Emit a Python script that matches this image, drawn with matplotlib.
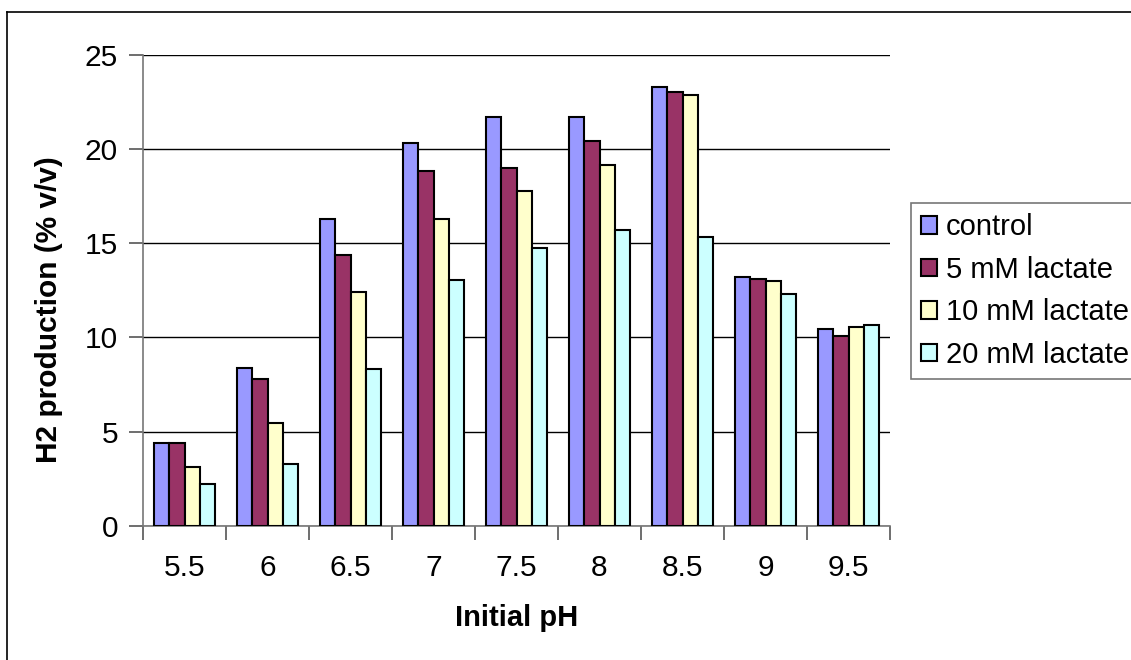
import numpy as np
import matplotlib.pyplot as plt
from matplotlib.lines import Line2D

plt.rcParams['font.family'] = ['Liberation Sans', 'DejaVu Sans']

# initial pH of each culture
ph_labels = ['5.5', '6', '6.5', '7', '7.5', '8', '8.5', '9', '9.5']

# H2 production (% v/v)
control = [4.4, 8.4, 16.3, 20.3, 21.7, 21.7, 23.3, 13.2, 10.45]
lactate_5 = [4.4, 7.8, 14.35, 18.8, 19.0, 20.4, 23.0, 13.1, 10.05]
lactate_10 = [3.15, 5.45, 12.4, 16.3, 17.75, 19.15, 22.85, 13.0, 10.55]
lactate_20 = [2.25, 3.3, 8.3, 13.05, 14.75, 15.7, 15.3, 12.3, 10.65]

series = [control, lactate_5, lactate_10, lactate_20]
names = ['control', '5 mM lactate', '10 mM lactate', '20 mM lactate']
colors = ['#9999FF', '#993366', '#FFFFCC', '#CCFFFF']

fig = plt.figure(figsize=(11.31, 6.6), dpi=100)
ax = fig.add_axes([143 / 1131, 1 - 526 / 660, (890 - 143) / 1131, (526 - 54.5) / 660])

x = np.arange(len(ph_labels))
width = 0.186
offsets = (np.arange(4) - 1.5) * width
handles = []
for vals, name, col, off in zip(series, names, colors, offsets):
    b = ax.bar(x + off, vals, width, color=col, edgecolor='black',
               linewidth=1.5, label=name, zorder=3)
    handles.append(b)

ax.set_xlim(-0.5, len(ph_labels) - 0.5)
ax.set_ylim(0, 25)
ax.set_yticks(range(0, 26, 5))
ax.yaxis.grid(True, color='black', linewidth=1.0, zorder=0)

# category labels at centres, tick marks at the boundaries
ax.set_xticks(x)
ax.set_xticklabels(ph_labels, fontsize=21.5)
ax.tick_params(axis='x', length=0, pad=20)
ax.set_xticks(np.arange(-0.5, len(ph_labels)), minor=True)
ax.tick_params(axis='x', which='minor', length=10, width=1.2, color='#555555')
ax.tick_params(axis='y', labelsize=21.5, length=10, width=1.2, color='#555555', pad=8)

for side in ['top', 'right']:
    ax.spines[side].set_visible(False)
for side in ['left', 'bottom']:
    ax.spines[side].set_color('#777777')
    ax.spines[side].set_linewidth(1.2)

ax.set_xlabel('Initial pH', fontsize=21, fontweight='bold')
ax.set_ylabel('H2 production (% v/v)', fontsize=21.5, fontweight='bold')
ax.xaxis.set_label_coords(0.5, (526 - 604) / (526 - 54.5))
ax.yaxis.set_label_coords((63 - 143) / (890 - 143), (526 - 310) / (526 - 54.5))

leg = fig.legend(handles=handles, labels=names, loc='upper left',
                 bbox_to_anchor=(911 / 1131, 1 - 203 / 660), fontsize=21,
                 frameon=True, fancybox=False, borderpad=0.35,
                 handlelength=0.55, handleheight=0.55, handletextpad=0.3,
                 labelspacing=0.5, borderaxespad=0)
leg.get_frame().set_edgecolor('#555555')
leg.get_frame().set_linewidth(1.2)

# outer chart border
fig.add_artist(Line2D([6.5 / 1131, 6.5 / 1131], [0, 1 - 12 / 660],
                      transform=fig.transFigure, color='black', linewidth=1.2))
fig.add_artist(Line2D([6.5 / 1131, 1], [1 - 12 / 660, 1 - 12 / 660],
                      transform=fig.transFigure, color='black', linewidth=1.2))

fig.savefig('out.png', dpi=100)
